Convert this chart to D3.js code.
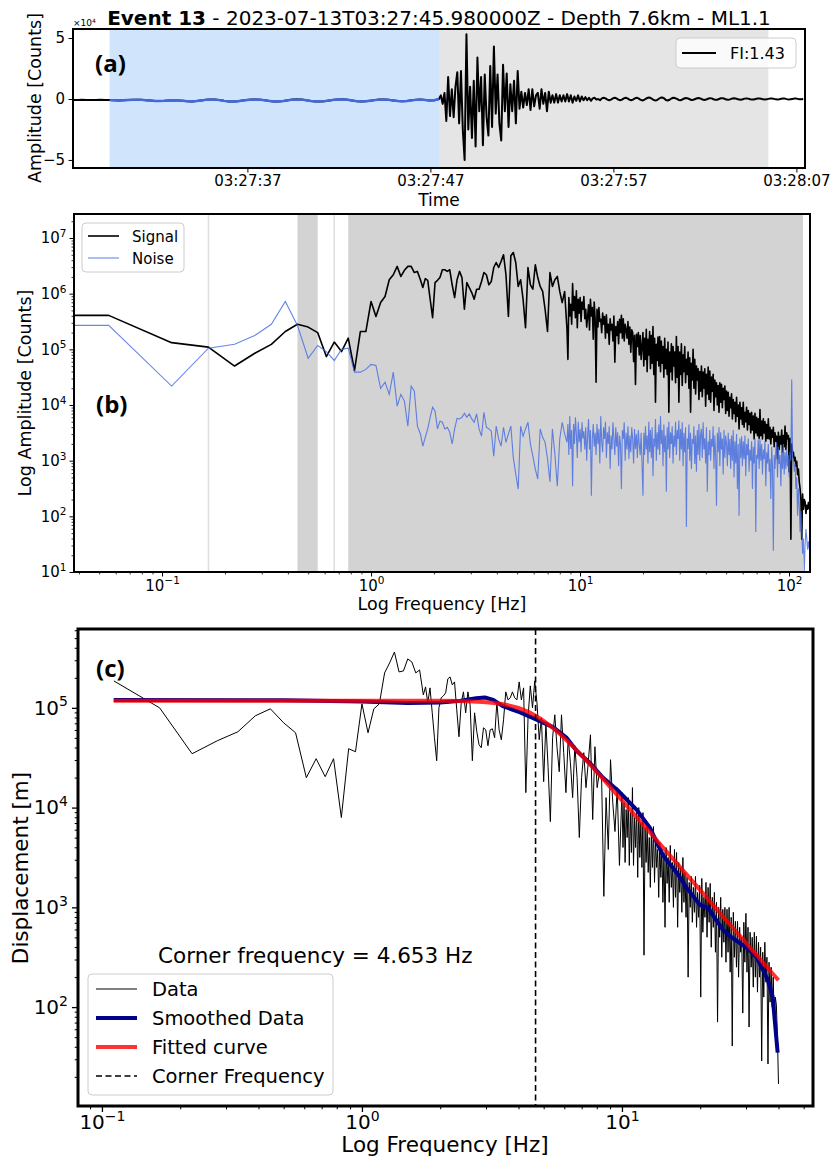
<!DOCTYPE html>
<html>
<head>
<meta charset="utf-8">
<script src="https://cdn.jsdelivr.net/npm/d3@7"></script>
<style>
  body { margin: 0; background: #fff; }
  text { font-family: "DejaVu Sans", sans-serif; fill: #000; }
  .tag { font-family: "Open Sans", sans-serif; font-weight: 700; }
</style>
</head>
<body>
<svg id="fig" width="832" height="1160"></svg>
<script>
// ---------------- data ----------------
const titleBold = "Event 13";
const titleRest = " - 2023-07-13T03:27:45.980000Z - Depth 7.6km - ML1.1";

// (a) waveform, amplitude in units of 1e4 counts
const traceStart = "2023-07-13T03:27:27.470Z";
const traceLength = 40;            // s
const noiseDt = 0.25, signalDt = 0.1;
const noiseWindow = [2, 20];       // s after trace start
const signalWindow = [20, 38];
const timeTicks = ["03:27:37", "03:27:47", "03:27:57", "03:28:07"];
const fiLabel = "FI:1.43";
const noiseTrace = [
  -0.08,-0.08,-0.07,-0.08,-0.09,-0.08,-0.07,-0.08,-0.09,-0.10,
  -0.12,-0.10,-0.08,-0.07,-0.06,-0.07,-0.10,-0.13,-0.16,-0.17,
  -0.15,-0.12,-0.10,-0.12,-0.15,-0.19,-0.20,-0.17,-0.12,-0.07,
  -0.04,-0.05,-0.09,-0.15,-0.20,-0.21,-0.18,-0.13,-0.08,-0.05,
  -0.04,-0.06,-0.11,-0.17,-0.21,-0.20,-0.16,-0.10,-0.05,-0.03,
  -0.05,-0.10,-0.16,-0.20,-0.21,-0.18,-0.12,-0.07,-0.04,-0.03,
  -0.06,-0.12,-0.18,-0.21,-0.19,-0.14,-0.09,-0.05,-0.04,-0.07,
  -0.12,-0.17,-0.19,-0.16,-0.11,-0.07,-0.05,-0.08,-0.12,-0.10
];
const signalTrace = [
  0.0, 0.3,-0.4, 0.5,-1.8, 1.8,-1.4, 0.8,-1.5, 1.0,
  2.2,-2.0, 2.3,-2.5,-5.0, 5.3,-2.5, 1.0,-3.2, 1.5,
  -3.9, 3.4,-1.0, 1.8,-3.8, 2.0,-1.5,-3.0, 2.7,-2.3,
  4.3,-1.2, 2.0,-2.0,-3.4, 2.8,-1.0, 2.1,-2.3, 1.2,
  -1.0, 1.5,-2.0, 2.3,-0.8, 0.6,-0.7, 0.5,-0.5, 0.8,
  -0.9, 0.8,-0.6, 0.3, 0.5,-0.8, 0.8,-0.4, 0.5,-1.0,
  0.6,-0.3, 0.3,-0.3, 0.4,-0.3, 0.3,-0.2, 0.3,-0.2,
  0.4,-0.2, 0.3,-0.3, 0.2,-0.15, 0.3,-0.2, 0.2,-0.1,
  0.15,-0.1, 0.1,-0.15, 0.05, 0.1,-0.05, 0.0,-0.1, 0.05,
  0.1, 0.05,-0.05,-0.1,-0.05, 0.05, 0.1, 0.05,-0.05,-0.1,
  -0.05, 0.05, 0.1, 0.05,-0.05,-0.1,-0.05, 0.05, 0.1, 0.05,
  -0.05,-0.12,-0.08, 0.02, 0.1, 0.12, 0.05,-0.05,-0.12,-0.1,
  0.0, 0.1, 0.12, 0.05,-0.08,-0.12,-0.06, 0.04, 0.1, 0.08,
  0.0,-0.08,-0.1,-0.04, 0.04, 0.08, 0.05,-0.02,-0.08,-0.06,
  0.0, 0.06, 0.08, 0.03,-0.04,-0.08,-0.05, 0.02, 0.07, 0.05,
  -0.02,-0.07,-0.06, 0.0, 0.06, 0.07, 0.02,-0.05,-0.07,-0.03,
  0.03, 0.06, 0.05, 0.0,-0.05,-0.06,-0.02, 0.03, 0.05, 0.03,
  -0.02,-0.05,-0.04, 0.0, 0.04, 0.05, 0.02,-0.03,-0.05,-0.03,
  0.01, 0.04, 0.04, 0.01,-0.03,-0.04,-0.02, 0.02, 0.04, 0.03,
  -0.01,-0.04,-0.03, 0.0, 0.03, 0.04, 0.01,-0.02,-0.03,-0.01
];

// (b) spectra, log10 of amplitude [counts]
const dfLow = 1 / 18;              // Hz, bins k/18 for k = 0..30
const bLowSignal = [
  5.61,5.61,5.12,5.04,4.70,4.93,5.09,5.32,5.45,5.40,
  5.30,4.87,5.13,4.96,5.20,4.62,5.32,5.32,5.86,5.59,
  5.84,5.95,6.25,6.34,6.49,6.31,6.42,6.49,6.49,6.38,
  6.40
];
const bLowNoise = [
  5.43,5.43,4.34,5.02,5.09,5.25,5.45,5.86,5.43,4.84,
  5.07,4.96,4.80,5.00,5.02,4.59,4.59,4.64,4.73,4.71,
  4.30,4.41,4.19,4.59,3.98,4.19,4.07,3.62,4.34,4.25,
  3.62
];
const bMidRange = [31 / 18, 8.44];  // read on 60 log-spaced frequencies
const bMidSignal = [
  6.25,6.11,6.27,6.24,5.90,5.57,6.20,6.24,6.29,6.43,
  6.43,6.40,6.43,6.16,5.93,6.25,6.40,6.29,5.72,6.20,
  6.11,6.02,5.90,6.08,6.08,6.22,6.38,6.34,6.16,6.22,
  6.47,6.56,6.47,6.58,6.70,6.34,5.59,6.68,6.74,6.56,
  6.13,6.25,5.90,5.39,6.47,6.16,6.08,6.52,6.29,6.13,
  6.04,5.72,5.32,6.38,6.13,6.25,6.31,6.04,5.84,6.04
];
const bMidNoise = [
  3.48,3.26,3.42,3.57,3.78,3.96,3.89,3.57,3.71,3.69,
  3.57,3.60,3.51,3.30,3.57,3.76,3.75,3.78,3.85,3.78,
  3.84,3.75,3.69,3.84,3.57,3.44,3.87,3.60,3.57,3.53,
  3.08,3.62,3.39,3.26,3.60,3.33,3.48,3.62,3.06,2.76,
  2.49,3.62,3.44,3.57,3.69,3.30,3.08,2.85,2.67,3.57,
  3.42,3.33,3.03,2.62,3.57,3.12,2.54,3.39,3.69,3.48
];
const bHighRange = [8.66, 19.6];    // read on 80 log-spaced frequencies
const bHighSignal = [
  5.36,4.82,5.93,5.60,5.81,5.45,6.18,5.70,5.95,5.57,
  6.05,5.39,5.90,5.65,5.93,5.50,5.85,5.72,5.95,5.55,
  5.72,5.40,5.59,5.80,5.35,5.90,5.60,5.75,5.18,5.85,
  5.55,4.41,5.72,5.40,5.75,5.50,5.54,5.30,5.65,5.45,
  5.59,5.20,5.62,5.30,5.45,5.09,5.55,5.35,5.45,5.15,
  5.60,4.77,5.41,5.25,5.50,5.10,5.54,5.30,5.61,5.20,
  5.55,5.15,5.45,5.36,5.20,5.50,5.09,5.40,4.95,5.35,
  5.30,4.78,5.25,4.37,5.27,5.05,5.30,4.90,5.25,4.82
];
const bHighNoise = [
  3.33,3.66,3.10,3.80,3.21,3.55,2.54,3.66,3.30,3.78,
  3.48,3.05,3.70,3.33,3.57,3.15,3.69,3.40,3.53,3.20,
  3.60,3.00,3.45,3.75,3.20,3.55,2.37,3.39,3.66,3.25,
  3.50,3.10,3.66,3.30,3.57,2.95,3.80,3.35,3.15,3.60,
  3.39,3.70,3.05,3.51,3.30,3.62,2.85,3.45,3.20,3.69,
  3.39,3.10,3.60,3.25,3.51,2.90,3.45,3.30,2.49,3.55,
  3.39,3.69,3.00,3.50,3.20,3.62,3.03,3.45,3.15,3.60,
  3.39,2.95,3.57,3.21,3.48,3.05,3.55,3.30,3.10,3.50
];
const bTopRange = [20, 125];        // read on 200 log-spaced frequencies
const bTopSignal = [
  5.30,4.70,5.20,4.82,5.36,4.60,5.18,4.90,5.32,4.65,
  5.25,4.75,5.41,4.55,5.20,4.05,5.09,4.80,5.22,4.70,
  5.23,4.60,5.15,4.75,5.05,4.50,5.20,4.65,5.00,4.55,
  5.13,3.87,4.95,4.60,5.10,4.45,5.05,4.70,4.95,4.40,
  5.23,4.50,5.05,4.05,4.95,4.55,5.10,4.35,4.90,4.60,
  5.05,4.40,4.82,4.55,4.95,4.30,4.85,3.87,4.75,4.45,
  5.00,4.30,4.82,4.20,4.70,4.45,4.65,4.10,4.60,4.25,
  4.70,4.15,4.59,4.30,4.65,3.98,4.55,4.20,4.68,4.10,
  4.61,4.05,4.50,4.25,4.55,3.90,4.45,4.15,4.40,4.00,
  4.35,3.87,4.40,4.05,4.37,3.95,4.30,4.10,4.34,3.85,
  4.25,3.90,4.23,3.80,4.14,3.95,4.20,3.75,4.10,3.85,
  4.05,3.70,4.14,3.80,4.00,3.57,4.05,3.75,3.95,3.65,
  4.05,3.60,3.87,3.70,3.96,3.55,3.90,3.65,3.85,3.50,
  3.87,3.55,3.80,3.39,3.85,3.50,3.78,3.45,3.75,3.40,
  3.92,3.45,3.71,3.39,3.75,3.50,3.70,3.35,3.65,3.40,
  3.75,3.39,3.60,3.30,3.55,3.42,3.60,3.25,3.50,3.35,
  3.44,3.03,3.51,3.20,3.44,3.30,3.55,3.15,3.45,3.25,
  3.62,3.20,3.50,3.39,3.45,2.80,3.40,1.59,3.30,3.15,
  3.15,3.00,3.06,2.90,2.99,2.75,2.85,2.62,2.50,2.30,
  1.59,2.40,2.13,2.30,2.26,2.05,2.20,2.13,2.25,2.13
];
const bTopNoise = [
  2.37,3.50,3.10,3.62,3.20,3.45,2.95,3.70,3.15,3.55,
  3.05,3.60,2.72,3.40,3.25,3.75,3.00,3.51,3.20,3.65,
  3.10,3.80,3.30,3.55,2.90,3.65,3.15,3.45,2.44,3.60,
  3.20,3.70,3.05,3.51,3.30,3.62,2.95,3.45,3.25,3.70,
  3.10,3.55,3.39,3.72,3.00,3.57,3.20,3.69,2.90,3.50,
  3.15,3.60,1.81,3.40,3.21,3.65,3.00,3.50,2.85,3.39,
  3.30,3.62,2.94,3.45,2.80,3.55,3.10,3.66,3.00,3.48,
  3.57,3.05,3.69,3.20,3.40,2.95,3.60,2.44,3.35,3.10,
  3.55,3.00,3.39,3.25,3.62,2.85,3.45,3.10,2.19,3.50,
  3.15,3.60,2.90,3.51,3.20,3.40,2.75,3.55,3.05,3.45,
  3.30,2.90,3.50,3.10,3.39,2.85,3.45,3.00,3.55,2.70,
  3.35,2.95,3.48,2.49,3.30,2.01,3.40,3.05,3.44,2.90,
  3.35,3.03,3.45,2.72,3.30,3.10,3.40,2.80,3.20,3.00,
  3.35,2.49,3.25,2.95,3.40,1.72,3.10,3.03,3.38,2.85,
  3.39,3.00,3.30,2.75,3.20,3.03,3.35,2.54,3.15,2.95,
  3.30,2.80,3.03,2.31,3.25,2.90,1.38,3.10,2.85,3.20,
  3.33,2.70,3.25,2.94,3.10,2.54,3.20,2.85,3.30,2.75,
  3.15,2.85,3.20,2.90,3.10,2.70,3.15,3.00,4.46,3.05,
  3.03,2.80,2.95,2.49,2.70,2.01,2.50,2.20,1.72,2.10,
  1.72,1.33,1.60,1.00,1.50,1.77,1.60,1.40,1.55,1.42
];
// frequency bands shaded in (b), Hz
const bSpans = [[0.1667, 0.1667], [0.4444, 0.5556], [0.6667, 0.6667], [0.7778, 116.7]];

// (c) displacement spectrum, log10 of displacement [m]
const cLowData = [            // bins k/18 for k = 2..30
  5.27,5.00,4.54,4.67,4.76,4.92,4.99,4.85,4.75,
  4.30,4.49,4.31,4.49,3.90,4.59,4.56,5.04,4.75,4.99,
  5.04,5.35,5.45,5.56,5.36,5.37,5.49,5.46,5.35,5.38
];
const cMidRange = [31 / 18, 9.78];   // 89 log-spaced frequencies
const cMidData = [
  5.13,5.21,5.05,5.20,4.95,4.70,4.47,5.00,5.10,5.12,
  5.15,5.29,5.31,5.23,5.26,4.98,4.71,5.05,5.16,4.95,
  5.16,5.03,4.47,4.95,4.76,4.63,4.60,4.80,4.78,4.62,
  4.78,4.79,4.70,5.06,4.78,4.68,4.88,5.16,5.08,5.10,
  5.16,5.10,5.08,5.26,5.08,5.20,4.15,4.91,5.22,5.00,
  5.27,5.05,4.68,4.90,4.26,4.85,4.40,3.86,4.70,4.93,
  4.60,4.36,4.93,4.55,4.15,4.70,4.45,4.10,4.62,4.30,
  3.70,4.30,4.55,4.20,4.45,4.73,3.88,4.61,4.20,4.35,
  4.30,3.11,4.10,3.58,4.48,4.05,3.76,4.20,3.42
];
const cTopRange = [10, 40];          // 150 log-spaced frequencies
const cTopData = [
  4.15,3.60,4.05,3.45,3.98,3.70,4.10,3.42,3.95,3.55,
  4.20,3.42,3.90,3.60,3.98,3.30,4.00,3.50,3.85,3.40,
  3.95,2.52,3.80,3.45,3.81,3.35,3.70,3.20,3.75,3.40,
  3.81,3.25,3.70,3.40,3.58,3.10,3.65,3.30,3.58,3.05,
  3.55,2.80,3.60,3.24,3.50,3.05,3.62,3.20,3.45,3.00,
  3.58,3.10,3.55,2.80,3.45,3.15,3.40,2.95,3.50,3.05,
  3.35,2.90,3.30,2.30,3.25,3.00,3.31,2.85,3.20,2.95,
  3.31,2.80,3.15,2.90,3.22,2.10,3.29,2.75,3.10,2.90,
  3.25,2.70,3.20,2.85,3.24,2.60,3.10,2.80,3.15,2.55,
  3.05,1.85,3.00,2.70,3.10,2.50,2.98,2.65,3.00,2.45,
  2.98,2.55,3.00,2.35,2.90,1.61,2.95,2.50,2.86,2.40,
  2.86,2.30,2.80,2.55,2.70,1.94,2.85,2.45,2.94,2.35,
  2.80,1.80,2.75,2.40,2.70,2.20,2.75,2.30,2.71,2.15,
  2.65,2.30,2.60,1.46,2.55,2.10,2.65,2.25,2.50,1.43,
  2.45,2.05,2.40,2.00,2.30,1.85,2.10,2.02,1.70,1.23
];
const smoothFreq = [0.111,0.5,1.0,1.5,2.0,2.4,2.75,2.97,3.2,3.48,4.06,4.65,5.43,6.13,6.7,7.53,8.44,9.6,11.4,12.8,14.4,16.3,17.8,20.0,21.5,22.4,24.5,26.7,30.3,33.0,36.3,38.0,39.7];
const smoothDisp = [1.2e5,1.19e5,1.16e5,1.12e5,1.13e5,1.18e5,1.25e5,1.27e5,1.2e5,1.04e5,9.0e4,7.7e4,6.4e4,5.0e4,3.7e4,2.8e4,2.0e4,1.5e4,9.5e3,6.3e3,3.3e3,2.2e3,1.55e3,1.05e3,980,830,590,490,390,315,190,126,35];
const fitFreq = [0.111,1,2,2.5,3,3.5,4,4.653,5.5,6.5,8,10,13,16,20,25,30,35,40];
const fitDisp = [1.18e5,1.18e5,1.176e5,1.166e5,1.14e5,1.086e5,9.96e4,8.34e4,6.11e4,4.06e4,2.28e4,1.18e4,5.4e3,2.9e3,1.49e3,760,440,277,186];
const cornerFreq = 4.653;

// ---------------- helpers ----------------
const svg = d3.select("#fig");
const logGrid = (a, b, n) => d3.range(n).map(i => a * Math.pow(b / a, i / (n - 1)));
const pw = v => Math.pow(10, v);
const onGrid = (range, vals) => logGrid(range[0], range[1], vals.length).map((f, i) => [f, vals[i]]);

function majors(scale) {
  const [a, b] = scale.domain(), out = [];
  for (let e = Math.floor(Math.log10(a)); e <= Math.ceil(Math.log10(b)); e++) {
    const v = Math.pow(10, e);
    if (v >= a * 0.999 && v <= b * 1.001) out.push(v);
  }
  return out;
}
function minors(scale) {
  const [a, b] = scale.domain(), out = [];
  for (let e = Math.floor(Math.log10(a)); e <= Math.ceil(Math.log10(b)); e++)
    for (let m = 2; m <= 9; m++) { const v = m * Math.pow(10, e); if (v >= a && v <= b) out.push(v); }
  return out;
}
function supLabel(text, d, fs) {
  const e = Math.round(Math.log10(d));
  text.text(null);
  text.append("tspan").text("10");
  text.append("tspan").attr("font-size", fs * 0.7).attr("dy", -fs * 0.42)
    .text(e < 0 ? "\u2212" + (-e) : String(e));
}
function logAxis(g, scale, side, o) {
  const mk = side === "bottom" ? d3.axisBottom : d3.axisLeft;
  const gm = g.append("g").call(mk(scale).tickValues(minors(scale)).tickSize(o.len * 0.55).tickFormat(""));
  gm.select(".domain").remove();
  gm.selectAll("line").attr("stroke-width", o.tw * 0.8);
  const ax = g.append("g").call(mk(scale).tickValues(majors(scale)).tickSize(o.len).tickPadding(o.pad));
  ax.select(".domain").remove();
  ax.selectAll("line").attr("stroke-width", o.tw);
  ax.selectAll("text").attr("font-size", o.fs).each(function (d) { supLabel(d3.select(this), d, o.fs); });
  return g;
}
function frame(g, w, h, sw) {
  g.append("rect").attr("width", w).attr("height", h)
    .attr("fill", "none").attr("stroke", "#000").attr("stroke-width", sw);
}
function legendBox(x, y, w, h) {
  svg.append("rect").attr("x", x).attr("y", y).attr("width", w).attr("height", h).attr("rx", 4)
    .attr("fill", "#fff").attr("fill-opacity", 0.8).attr("stroke", "#cccccc").attr("stroke-width", 1);
}
function clip(g, id, w, h) {
  g.append("clipPath").attr("id", id).append("rect").attr("width", w).attr("height", h);
  return g.append("g").attr("clip-path", `url(#${id})`);
}

// ---------------- title ----------------
const title = svg.append("text").attr("x", 439).attr("y", 25).attr("text-anchor", "middle").attr("font-size", 20);
title.append("tspan").attr("font-weight", "bold").text(titleBold);
title.append("tspan").text(titleRest);

// ---------------- panel (a) ----------------
const pa = { x: 73, y: 29, w: 732, h: 139 };
const ga = svg.append("g").attr("transform", `translate(${pa.x},${pa.y})`);
const t0 = new Date(traceStart).getTime();
const sec = s => new Date(t0 + s * 1000);
const xa = d3.scaleUtc().domain([sec(0), sec(traceLength)]).range([0, pa.w]);
const ya = d3.scaleLinear().domain([-5.66, 5.74]).range([pa.h, 0]);

ga.append("rect").attr("x", xa(sec(noiseWindow[0]))).attr("width", xa(sec(noiseWindow[1])) - xa(sec(noiseWindow[0])))
  .attr("height", pa.h).attr("fill", "#d0e4fb");
ga.append("rect").attr("x", xa(sec(signalWindow[0]))).attr("width", xa(sec(signalWindow[1])) - xa(sec(signalWindow[0])))
  .attr("height", pa.h).attr("fill", "#e5e5e5");

const trace = noiseTrace.map((v, i) => [sec(i * noiseDt), v])
  .concat(signalTrace.map((v, i) => [sec(signalWindow[0] + i * signalDt), v]));
const lineA = d3.line().x(d => xa(d[0])).y(d => ya(d[1]));
const ca = clip(ga, "clipA", pa.w, pa.h);
ca.append("path").datum(trace).attr("fill", "none").attr("stroke", "#000")
  .attr("stroke-width", 2).attr("stroke-linejoin", "round").attr("d", lineA);
const noisePart = trace.filter(d => d[0] >= sec(noiseWindow[0]) && d[0] <= sec(noiseWindow[1]));
ca.append("path").datum(noisePart).attr("fill", "none").attr("stroke", "royalblue")
  .attr("stroke-width", 2.4).attr("d", lineA);

const axA = ga.append("g").attr("transform", `translate(0,${pa.h})`)
  .call(d3.axisBottom(xa).tickValues(timeTicks.map(s => new Date("2023-07-13T" + s + "Z")))
    .tickFormat(d3.utcFormat("%H:%M:%S")).tickSize(4.5).tickPadding(2.5));
axA.select(".domain").remove();
axA.selectAll("text").attr("font-size", 15);
const ayA = ga.append("g").call(d3.axisLeft(ya).tickValues([-5, 0, 5])
  .tickFormat(d => d < 0 ? "\u2212" + (-d) : d).tickSize(4.5).tickPadding(3.5));
ayA.select(".domain").remove();
ayA.selectAll("text").attr("font-size", 15);
frame(ga, pa.w, pa.h, 2);

const mult = svg.append("text").attr("x", 73).attr("y", 26).attr("font-size", 9);
mult.append("tspan").text("\u00d710");
mult.append("tspan").attr("font-size", 6).attr("dy", -3.5).text("4");
svg.append("text").attr("class", "tag").attr("x", 95).attr("y", 72).attr("font-size", 24).text("(a)");
svg.append("text").attr("x", 439).attr("y", 205.5).attr("text-anchor", "middle").attr("font-size", 17).text("Time");
svg.append("text").attr("transform", "translate(41,98) rotate(-90)").attr("text-anchor", "middle")
  .attr("font-size", 17.5).text("Amplitude [Counts]");

legendBox(676, 38, 120, 30);
svg.append("line").attr("x1", 682).attr("x2", 716).attr("y1", 53).attr("y2", 53).attr("stroke", "#000").attr("stroke-width", 1.8);
svg.append("text").attr("x", 730).attr("y", 59).attr("font-size", 16).text(fiLabel);

// ---------------- panel (b) ----------------
const pb = { x: 74, y: 214, w: 736, h: 358 };
const gb = svg.append("g").attr("transform", `translate(${pb.x},${pb.y})`);
const xb = d3.scaleLog().domain([0.0379, 126]).range([0, pb.w]);
const yb = d3.scaleLog().domain([10, 2.7e7]).range([pb.h, 0]);

bSpans.forEach(([f0, f1]) => {
  const x0 = xb(f0), w = Math.max(xb(f1) - x0, 1.5);
  gb.append("rect").attr("x", x0 - (f0 === f1 ? 0.75 : 0)).attr("width", w).attr("height", pb.h)
    .attr("fill", "#d3d3d3").attr("fill-opacity", f0 === f1 ? 0.75 : 1);
});

const lowF = d3.range(bLowSignal.length).map(k => k * dfLow);
const sigB = lowF.map((f, i) => [f, bLowSignal[i]])
  .concat(onGrid(bMidRange, bMidSignal), onGrid(bHighRange, bHighSignal), onGrid(bTopRange, bTopSignal));
const noiB = lowF.map((f, i) => [f, bLowNoise[i]])
  .concat(onGrid(bMidRange, bMidNoise), onGrid(bHighRange, bHighNoise), onGrid(bTopRange, bTopNoise));
const lineB = d3.line().x(d => d[0] > 0 ? xb(d[0]) : 0).y(d => yb(pw(d[1])));
const cb = clip(gb, "clipB", pb.w, pb.h);
cb.append("path").datum(sigB).attr("fill", "none").attr("stroke", "#000").attr("stroke-width", 1.6)
  .attr("stroke-linejoin", "round").attr("d", lineB);
cb.append("path").datum(noiB).attr("fill", "none").attr("stroke", "royalblue").attr("stroke-opacity", 0.8)
  .attr("stroke-width", 1.1).attr("d", lineB);

logAxis(gb.append("g").attr("transform", `translate(0,${pb.h})`), xb, "bottom", { len: 4.5, pad: 3.5, fs: 15, tw: 1 });
logAxis(gb.append("g"), yb, "left", { len: 4.5, pad: 3, fs: 15, tw: 1 });
frame(gb, pb.w, pb.h, 2);

svg.append("text").attr("class", "tag").attr("x", 96).attr("y", 413).attr("font-size", 24).text("(b)");
svg.append("text").attr("x", 442).attr("y", 610).attr("text-anchor", "middle").attr("font-size", 17.5).text("Log Frequency [Hz]");
svg.append("text").attr("transform", "translate(31,393) rotate(-90)").attr("text-anchor", "middle")
  .attr("font-size", 17.5).text("Log Amplitude [Counts]");

legendBox(82, 223, 102, 49);
[["Signal", "#000", 1.6, 1, 236], ["Noise", "royalblue", 1.1, 0.8, 258]].forEach(([lab, col, sw, op, y]) => {
  svg.append("line").attr("x1", 88).attr("x2", 119).attr("y1", y).attr("y2", y)
    .attr("stroke", col).attr("stroke-width", sw).attr("stroke-opacity", op);
  svg.append("text").attr("x", 132).attr("y", y + 5.5).attr("font-size", 15).text(lab);
});

// ---------------- panel (c) ----------------
const pc = { x: 78, y: 629, w: 735, h: 477 };
const gc = svg.append("g").attr("transform", `translate(${pc.x},${pc.y})`);
const xc = d3.scaleLog().domain([0.0809, 54.3]).range([0, pc.w]);
const yc = d3.scaleLog().domain([10.2, 6.17e5]).range([pc.h, 0]);

const dataC = cLowData.map((v, i) => [(i + 2) * dfLow, v])
  .concat(onGrid(cMidRange, cMidData), onGrid(cTopRange, cTopData))
  .map(d => [d[0], pw(d[1])]);
const lineC = d3.line().x(d => xc(d[0])).y(d => yc(d[1]));
const cc = clip(gc, "clipC", pc.w, pc.h);
cc.append("path").datum(dataC).attr("fill", "none").attr("stroke", "#000").attr("stroke-width", 1)
  .attr("stroke-linejoin", "round").attr("d", lineC);
cc.append("path").datum(smoothFreq.map((f, i) => [f, smoothDisp[i]])).attr("fill", "none")
  .attr("stroke", "#00008b").attr("stroke-width", 4).attr("stroke-linejoin", "round").attr("d", lineC);
cc.append("path").datum(fitFreq.map((f, i) => [f, fitDisp[i]])).attr("fill", "none")
  .attr("stroke", "red").attr("stroke-opacity", 0.8).attr("stroke-width", 4)
  .attr("d", d3.line().x(d => xc(d[0])).y(d => yc(d[1])).curve(d3.curveMonotoneX));
cc.append("line").attr("x1", xc(cornerFreq)).attr("x2", xc(cornerFreq)).attr("y1", 0).attr("y2", pc.h)
  .attr("stroke", "#000").attr("stroke-width", 1.6).attr("stroke-dasharray", "6,3.5");

logAxis(gc.append("g").attr("transform", `translate(0,${pc.h})`), xc, "bottom", { len: 6, pad: 3, fs: 20, tw: 1.3 });
logAxis(gc.append("g"), yc, "left", { len: 6, pad: 4, fs: 20, tw: 1.3 });
frame(gc, pc.w, pc.h, 3);

svg.append("text").attr("class", "tag").attr("x", 96).attr("y", 677).attr("font-size", 24).text("(c)");
svg.append("text").attr("x", 158).attr("y", 963).attr("font-size", 21.5).text(`Corner frequency = ${cornerFreq} Hz`);
svg.append("text").attr("x", 445).attr("y", 1152).attr("text-anchor", "middle").attr("font-size", 21.5).text("Log Frequency [Hz]");
svg.append("text").attr("transform", "translate(28,868) rotate(-90)").attr("text-anchor", "middle")
  .attr("font-size", 21.5).text("Displacement [m]");

legendBox(88, 974, 245, 121);
[
  ["Data", "#000", 1, 1, null, 989],
  ["Smoothed Data", "#00008b", 4, 1, null, 1018],
  ["Fitted curve", "red", 4, 0.8, null, 1047],
  ["Corner Frequency", "#000", 1.6, 1, "6,3.5", 1076]
].forEach(([lab, col, sw, op, dash, y]) => {
  svg.append("line").attr("x1", 96).attr("x2", 137).attr("y1", y).attr("y2", y)
    .attr("stroke", col).attr("stroke-width", sw).attr("stroke-opacity", op).attr("stroke-dasharray", dash);
  svg.append("text").attr("x", 152).attr("y", y + 7).attr("font-size", 19.5).text(lab);
});
</script>
</body>
</html>
